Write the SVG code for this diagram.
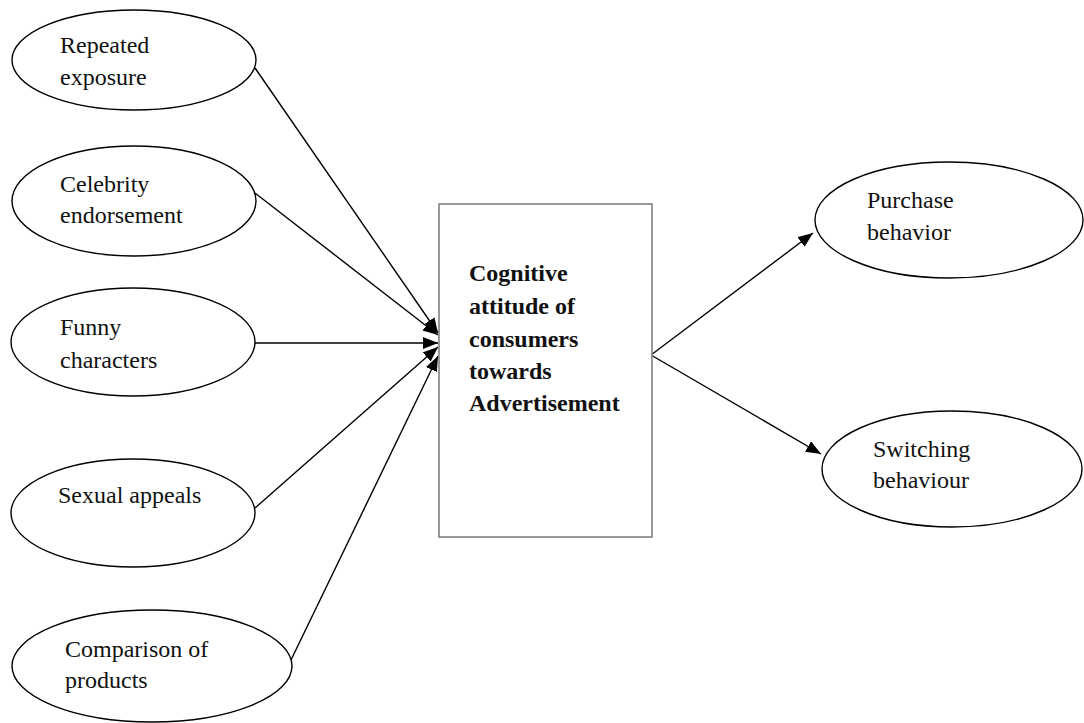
<svg xmlns="http://www.w3.org/2000/svg" width="1084" height="723" viewBox="0 0 1084 723">
  <style>
    .node { fill: #ffffff; stroke: #000000; stroke-width: 1.4; }
    .box { fill: #ffffff; stroke: #808080; stroke-width: 1.6; }
    .lbl { font-family: "Liberation Serif", "Times New Roman", serif; font-size: 24px; fill: #111111; }
    .bold { font-weight: bold; }
    .edge { stroke: #000000; stroke-width: 1.4; fill: none; marker-end: url(#arrow); }
  </style>
  <defs>
    <marker id="arrow" markerUnits="userSpaceOnUse" markerWidth="16" markerHeight="12" refX="15" refY="6" orient="auto">
      <path d="M0,0 L15,6 L0,12 Z" fill="#000000"/>
    </marker>
  </defs>
  <rect width="1084" height="723" fill="#ffffff"/>

  <g id="connectors">
    <line class="edge" x1="255" y1="68" x2="438" y2="333"/>
    <line class="edge" x1="255" y1="193" x2="438" y2="335"/>
    <line class="edge" x1="255" y1="343" x2="438" y2="343"/>
    <line class="edge" x1="255" y1="508" x2="438" y2="347"/>
    <line class="edge" x1="291" y1="660" x2="438" y2="356"/>
    <line class="edge" x1="651" y1="355" x2="813" y2="233"/>
    <line class="edge" x1="651" y1="355" x2="821" y2="454"/>
  </g>

  <g id="repeated-exposure">
    <ellipse class="node" cx="134" cy="60" rx="122" ry="50"/>
    <text class="lbl" x="60" y="53">Repeated</text>
    <text class="lbl" x="60" y="85">exposure</text>
  </g>

  <g id="celebrity-endorsement">
    <ellipse class="node" cx="134" cy="201" rx="122" ry="55"/>
    <text class="lbl" x="60" y="192">Celebrity</text>
    <text class="lbl" x="60" y="223">endorsement</text>
  </g>

  <g id="funny-characters">
    <ellipse class="node" cx="133" cy="342" rx="122" ry="54"/>
    <text class="lbl" x="60" y="335">Funny</text>
    <text class="lbl" x="60" y="368">characters</text>
  </g>

  <g id="sexual-appeals">
    <ellipse class="node" cx="133" cy="513" rx="122" ry="54"/>
    <text class="lbl" x="58" y="503">Sexual appeals</text>
  </g>

  <g id="comparison-of-products">
    <ellipse class="node" cx="152" cy="666" rx="140" ry="56"/>
    <text class="lbl" x="65" y="657">Comparison of</text>
    <text class="lbl" x="65" y="688">products</text>
  </g>

  <g id="cognitive-attitude">
    <rect class="box" x="439" y="204" width="213" height="333"/>
    <text class="lbl bold" x="469" y="281">Cognitive</text>
    <text class="lbl bold" x="469" y="314">attitude of</text>
    <text class="lbl bold" x="469" y="347">consumers</text>
    <text class="lbl bold" x="469" y="379">towards</text>
    <text class="lbl bold" x="469" y="411">Advertisement</text>
  </g>

  <g id="purchase-behavior">
    <ellipse class="node" cx="949" cy="220" rx="134" ry="58"/>
    <text class="lbl" x="867" y="208">Purchase</text>
    <text class="lbl" x="867" y="240">behavior</text>
  </g>

  <g id="switching-behaviour">
    <ellipse class="node" cx="952" cy="469" rx="130" ry="58"/>
    <text class="lbl" x="873" y="457">Switching</text>
    <text class="lbl" x="873" y="488">behaviour</text>
  </g>
</svg>
